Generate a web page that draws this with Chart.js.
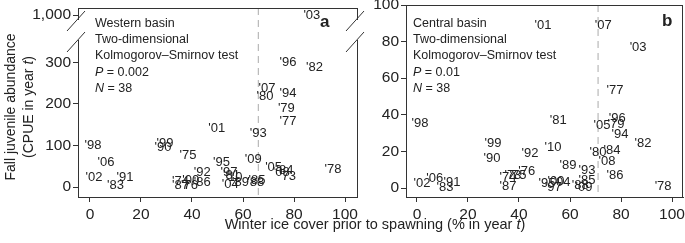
<!DOCTYPE html>
<html>
<head>
<meta charset="utf-8">
<script src="https://cdn.jsdelivr.net/npm/chart.js@4.4.0/dist/chart.umd.min.js"></script>
<style>
  body { margin: 0; background: #fff; width: 685px; height: 243px; position: relative; overflow: hidden;
         font-family: "Liberation Sans", Arial, sans-serif; color: #222; }
  canvas { position: absolute; top: 0; }
  #chartA { left: 0; }
  #chartB { left: 358px; }
  .note { position: absolute; font-size: 12.5px; line-height: 16.2px; white-space: nowrap; }
  .tag { position: absolute; font-size: 17px; font-weight: bold; }
  .ytitle { position: absolute; left: -81px; top: 89px; width: 200px; height: 36px; font-size: 14px;
            line-height: 18px; text-align: center; transform: rotate(-90deg); white-space: nowrap; }
  .xtitle { position: absolute; left: 175px; width: 400px; top: 216px; font-size: 14.5px; text-align: center; white-space: nowrap; }
</style>
</head>
<body>
<canvas id="chartA" width="370" height="243"></canvas>
<canvas id="chartB" width="327" height="243"></canvas>

<div class="note" style="left:95px; top:15px">Western basin<br>Two-dimensional<br>Kolmogorov–Smirnov test<br><i>P</i> = 0.002<br><i>N</i> = 38</div>
<div class="note" style="left:413px; top:15px">Central basin<br>Two-dimensional<br>Kolmogorov–Smirnov test<br><i>P</i> = 0.01<br><i>N</i> = 38</div>
<div class="tag" style="left:320px; top:12px">a</div>
<div class="tag" style="left:662px; top:11px">b</div>
<div class="ytitle">Fall juvenile abundance<br>(CPUE in year <i>t</i>)</div>
<div class="xtitle">Winter ice cover prior to spawning (% in year <i>t</i>)</div>

<script>
// Western basin (panel a)
const yearsA = ["'03","'96","'82","'07","'80","'94","'79","'77","'01","'93",
                "'98","'99","'90","'75","'06","'09","'95","'92","'05","'78",
                "'02","'91","'83","'87","'74","'00","'76","'86","'97","'81",
                "'10","'04","'89","'85","'88","'08","'84","'73"];
const iceA = [87, 77.6, 88, 69.4, 68.6, 77.6, 77, 77.6, 49.7, 66,
              1.2, 29.4, 28.6, 38.4, 6.3, 64, 51.6, 44, 72, 95.3,
              1.6, 13.7, 10, 35.5, 35.5, 39.5, 39, 44, 54.5, 55.5,
              56.5, 55, 59, 65.5, 65, 75, 76.5, 77.5];
const cpueA = [1000, 299, 287, 238, 217, 226, 190, 157, 140, 130,
               101, 104, 96, 77, 60, 67, 60, 36, 48, 43,
               24, 24, 5, 4, 13, 15, 5, 10, 34, 28,
               23, 6, 12, 17, 10, 36, 40, 25];

// Central basin (panel b)
const yearsB = ["'01","'07","'03","'77","'98","'81","'96","'05","'79","'94",
                "'82","'99","'90","'92","'10","'80","'84","'08","'89","'93",
                "'86","'85","'78","'02","'06","'83","'91","'87","'74","'73",
                "'75","'76","'95","'97","'04","'00","'88","'09"];
const iceB = [49.4, 73, 86.7, 77.6, 1.2, 55.4, 78.5, 72.5, 78, 79.6,
              88.6, 29.8, 29.4, 44.3, 53.3, 71, 76.5, 74.5, 59.2, 66.7,
              77.6, 66.7, 96.5, 2, 7, 11, 13.7, 35.7, 35.7, 37.6,
              39.6, 43, 51, 53.4, 56.9, 54.5, 64, 65.5];
const cpueB = [89, 89, 77, 53.5, 35.5, 37, 38, 34, 35, 29.5,
               24.6, 24.6, 16, 19, 22, 19.7, 20.8, 14.8, 12.6, 9.8,
               7, 4.4, 1, 2.7, 5.5, 0.5, 3.3, 1, 6, 7,
               7, 9, 2.7, 0.5, 3.3, 3.5, 1.6, 0.5];

const xTicks = [0, 20, 40, 60, 80, 100];
const yTicksA = [0, 100, 200, 300, 1000];
const yTickLabelsA = ['0', '100', '200', '300', '1,000'];
const yTicksB = [0, 20, 40, 60, 80, 100];
const thresholdA = 66;
const thresholdB = 71;

// broken y axis: values above the break are squeezed near the top
function breakY(v) {
    return v <= 350 ? v : 414 + (v - 1000) * 0.05;
}

Chart.defaults.font.family = '"Liberation Sans", Arial, sans-serif';
Chart.defaults.font.size = 15.5;
Chart.defaults.color = '#222';

const yearLabels = {
    id: 'yearLabels',
    afterDatasetsDraw(chart) {
        const ctx = chart.ctx;
        const ds = chart.data.datasets[0];
        ctx.save();
        ctx.font = '13px "Liberation Sans", Arial, sans-serif';
        ctx.fillStyle = '#222';
        ctx.textAlign = 'center';
        ctx.textBaseline = 'middle';
        chart.getDatasetMeta(0).data.forEach((pt, i) => {
            ctx.fillText(ds.years[i], pt.x, pt.y);
        });
        ctx.restore();
    }
};

const frame = {
    id: 'frame',
    beforeDatasetsDraw(chart, args, opts) {
        const { ctx, chartArea: a, scales } = chart;
        const x = scales.x.getPixelForValue(opts.threshold);
        ctx.save();
        ctx.strokeStyle = '#aaa';
        ctx.lineWidth = 1;
        ctx.setLineDash([7, 5]);
        ctx.beginPath();
        ctx.moveTo(x, a.top);
        ctx.lineTo(x, a.bottom);
        ctx.stroke();
        ctx.restore();
    },
    afterDraw(chart, args, opts) {
        const { ctx, chartArea: a, scales } = chart;
        ctx.save();
        ctx.strokeStyle = '#333';
        ctx.lineWidth = 1;
        ctx.beginPath();
        ctx.moveTo(a.left, a.top + 0.5);
        ctx.lineTo(a.right, a.top + 0.5);
        if (opts.broken) {
            const g = scales.y.getPixelForValue(378);
            [a.left, a.right].forEach(ax => {
                ctx.moveTo(ax + 0.5, a.top);
                ctx.lineTo(ax + 0.5, g - 10);
                ctx.moveTo(ax + 0.5, g + 10);
                ctx.lineTo(ax + 0.5, a.bottom);
                ctx.moveTo(ax - 11, g + 1);
                ctx.lineTo(ax + 7, g - 19);
                ctx.moveTo(ax - 11, g + 22);
                ctx.lineTo(ax + 7, g + 2);
            });
        } else {
            ctx.moveTo(a.left + 0.5, a.top);
            ctx.lineTo(a.left + 0.5, a.bottom);
            ctx.moveTo(a.right - 0.5, a.top);
            ctx.lineTo(a.right - 0.5, a.bottom);
        }
        ctx.stroke();
        ctx.restore();
    }
};

function makeChart(id, years, ice, cpue, opt) {
    new Chart(document.getElementById(id), {
        type: 'scatter',
        data: {
            datasets: [{
                years: years,
                data: ice.map((v, i) => ({ x: v, y: opt.mapY(cpue[i]) })),
                pointRadius: 0,
                pointHoverRadius: 0
            }]
        },
        options: {
            responsive: false,
            animation: false,
            events: [],
            layout: { padding: { left: 0, top: opt.top, right: opt.right, bottom: 0 } },
            plugins: {
                legend: { display: false },
                tooltip: { enabled: false },
                frame: { threshold: opt.threshold, broken: opt.broken }
            },
            scales: {
                x: {
                    type: 'linear',
                    min: opt.xMin, max: opt.xMax,
                    afterBuildTicks: s => { s.ticks = xTicks.map(v => ({ value: v })); },
                    afterFit: s => { s.height = 46; s.paddingLeft = 0; s.paddingRight = 0; },
                    grid: { drawOnChartArea: false, tickLength: 5, color: '#333' },
                    border: { display: true, color: '#333' },
                    ticks: { padding: 3, maxRotation: 0 }
                },
                y: {
                    type: 'linear',
                    min: opt.yMin, max: opt.yMax,
                    afterBuildTicks: s => { s.ticks = opt.yTicks.map(v => ({ value: opt.mapY(v) })); },
                    afterFit: s => { s.width = opt.yWidth; s.paddingTop = 0; s.paddingBottom = 0; },
                    grid: { drawOnChartArea: false, tickLength: 5, color: '#333' },
                    border: { display: false },
                    ticks: { padding: 2, callback: (v, i) => opt.yLabels[i] }
                }
            }
        },
        plugins: [yearLabels, frame]
    });
}

makeChart('chartA', yearsA, iceA, cpueA, {
    mapY: breakY, yTicks: yTicksA, yLabels: yTickLabelsA,
    yMin: -24, yMax: 431, xMin: -4.7, xMax: 104.7,
    top: 8, right: 13, yWidth: 78, threshold: thresholdA, broken: true
});

makeChart('chartB', yearsB, iceB, cpueB, {
    mapY: v => v, yTicks: yTicksB, yLabels: yTicksB.map(String),
    yMin: -4.9, yMax: 100, xMin: -4.3, xMax: 104.3,
    top: 5, right: 2, yWidth: 48, threshold: thresholdB, broken: false
});
</script>
</body>
</html>
